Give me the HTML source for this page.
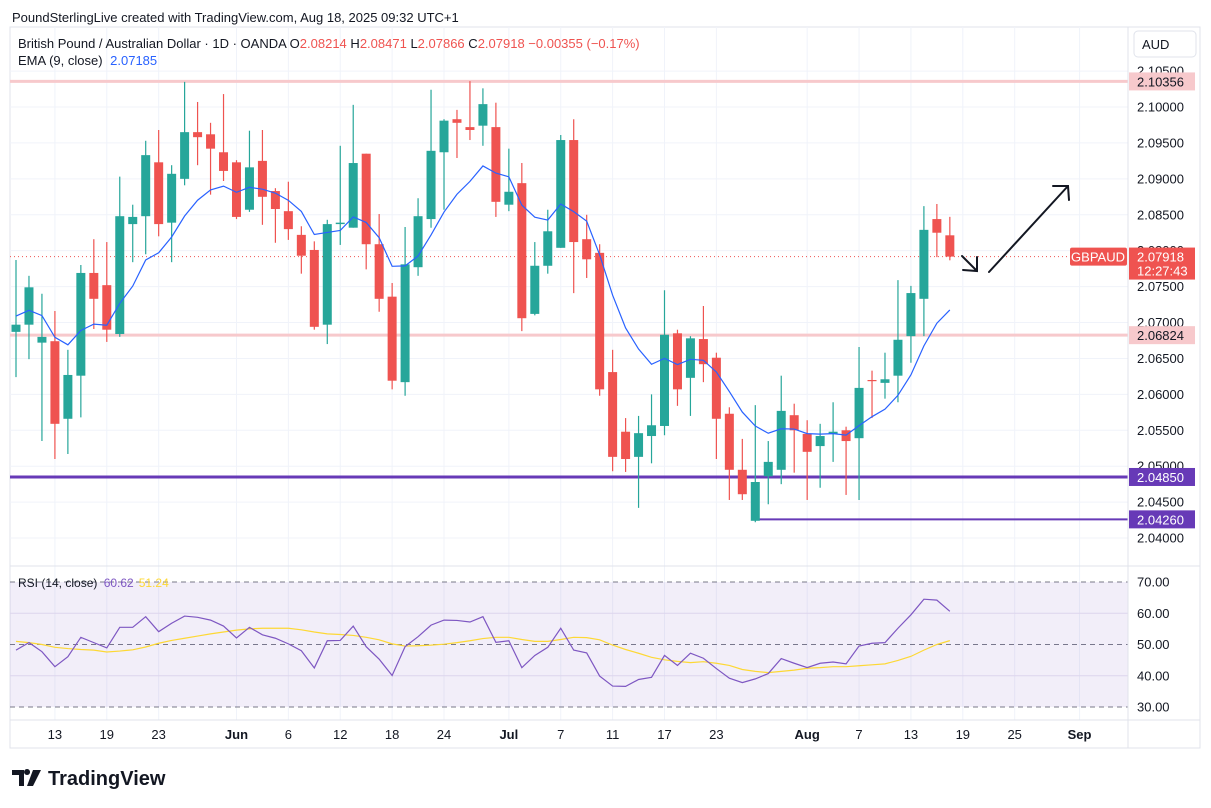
<!DOCTYPE html>
<html><head><meta charset="utf-8"><style>
body{margin:0;background:#fff;font-family:"Liberation Sans",sans-serif}
svg{display:block}
text{font-family:"Liberation Sans",sans-serif}
</style></head><body>
<svg id="c" width="1211" height="808" viewBox="0 0 1211 808">
<rect x="0" y="0" width="1211" height="808" fill="#fff"/>
<text x="12" y="22" font-size="13" fill="#131722">PoundSterlingLive created with TradingView.com, Aug 18, 2025 09:32 UTC+1</text>
<rect x="10" y="27" width="1190" height="721" fill="none" stroke="#e0e3eb"/>
<g id="grid"></g>
<rect x="10" y="582" width="1118" height="125" fill="#7e57c2" fill-opacity="0.1"/>
<g id="levels"></g>
<g id="candles"></g>
<g id="lines"></g>
<line x1="10" y1="566" x2="1200" y2="566" stroke="#e0e3eb"/>
<line x1="1128" y1="27" x2="1128" y2="748" stroke="#e0e3eb"/>
<line x1="10" y1="720" x2="1200" y2="720" stroke="#e0e3eb"/>
<g id="axis"></g>
<g stroke="#131722" stroke-width="2" fill="none" stroke-linecap="round">
<path d="M962 256 L977 271 M963 270 L977 271 L977 257"/>
<path d="M989 272 L1068 186 M1053 186 L1068 186 L1069 200"/>
</g>
<rect x="1134" y="31" width="62" height="26" rx="4" fill="#fff" stroke="#e0e3eb"/>
<text x="1142" y="49" font-size="13" fill="#131722">AUD</text>
<text x="18" y="48" font-size="13" fill="#131722">British Pound / Australian Dollar · 1D · OANDA <tspan>O</tspan><tspan fill="#ef5350">2.08214</tspan> <tspan>H</tspan><tspan fill="#ef5350">2.08471</tspan> <tspan>L</tspan><tspan fill="#ef5350">2.07866</tspan> <tspan>C</tspan><tspan fill="#ef5350">2.07918 −0.00355 (−0.17%)</tspan></text>
<text x="18" y="65" font-size="13" fill="#131722">EMA (9, close) <tspan fill="#2962ff" dx="4">2.07185</tspan></text>
<text x="18" y="587" font-size="12" fill="#131722">RSI (14, close) <tspan fill="#7e57c2" dx="3">60.62</tspan><tspan fill="#fdd835" dx="5">51.24</tspan></text>
<g>
<path d="M12 770 h12 v16 h-5 v-11 h-7z M27 775 a3 3 0 1 1 0.1 0z M33 770 h8 l-8 16 h-6z" fill="#131722"/>
<text x="48" y="785" font-size="20" font-weight="bold" fill="#131722">TradingView</text>
</g>
</svg>
<script>
const opens=[2.0687,2.0697,2.0672,2.0674,2.0566,2.0626,2.0769,2.0752,2.0684,2.0837,2.0848,2.0923,2.0839,2.0900,2.0965,2.0962,2.0937,2.0923,2.0857,2.0925,2.0883,2.0855,2.0822,2.0801,2.0697,2.0837,2.0832,2.0935,2.0809,2.0736,2.0617,2.0777,2.0844,2.0937,2.0983,2.0972,2.0974,2.0972,2.0864,2.0894,2.0712,2.0779,2.0804,2.0954,2.0816,2.0797,2.0631,2.0548,2.0513,2.0542,2.0556,2.0685,2.0623,2.0677,2.0651,2.0573,2.0495,2.0424,2.0486,2.0495,2.0571,2.0545,2.0528,2.0545,2.0550,2.0539,2.0620,2.0616,2.0626,2.0681,2.0733,2.0844,2.08214];
const highs=[2.0787,2.0765,2.0740,2.0716,2.0662,2.0780,2.0816,2.0812,2.0903,2.0864,2.0953,2.0968,2.0919,2.1035,2.1007,2.0978,2.1018,2.0926,2.0967,2.0968,2.0887,2.0896,2.0834,2.0813,2.0843,2.0946,2.1003,2.0935,2.0851,2.0755,2.0833,2.0873,2.1024,2.0983,2.0996,2.1036,2.1026,2.1006,2.0942,2.0922,2.0812,2.0857,2.0961,2.0983,2.0850,2.0809,2.0662,2.0567,2.0570,2.0600,2.0745,2.0690,2.0681,2.0723,2.0658,2.0582,2.0538,2.0585,2.0535,2.0626,2.0587,2.0564,2.0559,2.0589,2.0555,2.0666,2.0633,2.0658,2.0759,2.0751,2.0862,2.0865,2.08471];
const lows=[2.0624,2.0649,2.0535,2.0510,2.0517,2.0568,2.0691,2.0673,2.0680,2.0784,2.0795,2.0820,2.0784,2.0891,2.0919,2.0878,2.0897,2.0844,2.0854,2.0836,2.0811,2.0815,2.0768,2.0690,2.0670,2.0808,2.0832,2.0774,2.0715,2.0607,2.0598,2.0765,2.0832,2.0857,2.0929,2.0954,2.0946,2.0847,2.0855,2.0688,2.0710,2.0768,2.0804,2.0741,2.0762,2.0598,2.0493,2.0492,2.0442,2.0504,2.0543,2.0584,2.0570,2.0617,2.0510,2.0453,2.0453,2.0422,2.0447,2.0475,2.0491,2.0453,2.0470,2.0506,2.0460,2.0453,2.0567,2.0594,2.0589,2.0644,2.0681,2.0791,2.07866];
const closes=[2.0697,2.0749,2.0680,2.0559,2.0627,2.0769,2.0733,2.0690,2.0848,2.0847,2.0933,2.0837,2.0907,2.0965,2.0958,2.0942,2.0911,2.0847,2.0916,2.0875,2.0858,2.0830,2.0793,2.0694,2.0837,2.0839,2.0922,2.0809,2.0733,2.0619,2.0781,2.0848,2.0939,2.0981,2.0978,2.0968,2.1004,2.0868,2.0882,2.0706,2.0779,2.0827,2.0954,2.0812,2.0788,2.0607,2.0513,2.0510,2.0546,2.0557,2.0683,2.0607,2.0678,2.0642,2.0566,2.0495,2.0461,2.0478,2.0506,2.0577,2.0550,2.0520,2.0542,2.0548,2.0535,2.0609,2.0619,2.0621,2.0676,2.0741,2.0829,2.0825,2.07918];
const emaSeed=2.0712;
const rsiValues=[48.2,50.6,47.7,42.9,46.1,52.3,50.6,48.9,55.5,55.5,58.9,54.1,56.8,59.1,58.7,57.8,55.9,52.1,55.5,53.1,52.0,50.2,48.0,42.5,51.2,51.3,55.9,49.3,45.3,40.1,49.3,52.5,56.2,57.8,57.7,57.2,58.9,50.7,51.2,42.6,46.5,49.1,55.2,48.2,47.3,39.9,36.7,36.6,38.8,39.5,46.5,43.3,47.2,45.6,42.3,39.2,37.8,39.0,40.7,45.5,44.0,42.6,44.0,44.4,43.8,49.5,50.4,50.6,55.2,59.5,64.5,64.2,60.62];
const rsiMa=[51.0,50.6,50.0,49.1,48.7,48.4,48.2,47.6,47.9,48.3,49.2,50.4,51.3,52.0,52.7,53.4,54.0,54.6,55.0,55.2,55.2,55.2,54.7,54.0,53.4,53.2,52.9,52.3,51.5,50.2,49.5,49.6,49.8,50.1,50.6,51.2,51.9,52.3,52.3,51.6,51.0,51.0,51.6,52.3,52.2,51.5,49.8,48.4,47.2,45.9,45.1,44.6,44.2,44.5,44.0,43.3,42.0,41.4,41.0,41.4,41.8,42.4,42.6,42.9,42.9,43.2,43.5,43.8,44.9,46.2,48.2,50.0,51.24];
const priceTicks=[2.040,2.045,2.050,2.055,2.060,2.065,2.070,2.075,2.080,2.085,2.090,2.095,2.100,2.105];
const rsiTicks=[70,60,50,40,30];
const timeLabels=["13","19","23","Jun","6","12","18","24","Jul","7","11","17","23","Aug","7","13","19","25","Sep"];
const timeIdx=[3,7,11,17,21,25,29,33,38,42,46,50,54,61,65,69,73,77,82];
const levelPrices=[2.10356,2.06824,2.04850,2.04260];

const NS="http://www.w3.org/2000/svg";
function X(i){return 16+12.97*i;}
function Y(p){return 107+(2.10-p)*7184;}
function RY(v){return 582+(70-v)*3.125;}
function mk(tag,attrs,parent){const e=document.createElementNS(NS,tag);for(const k in attrs)e.setAttribute(k,attrs[k]);parent.appendChild(e);return e;}
const grid=document.getElementById('grid'),lv=document.getElementById('levels'),cg=document.getElementById('candles'),lg=document.getElementById('lines'),ax=document.getElementById('axis');

timeIdx.forEach((ix,k)=>{
  const g=mk('line',{x1:X(ix),x2:X(ix),y1:27,y2:720,stroke:'#f0f3fa'},grid);
  
  
  const t=mk('text',{x:X(ix),y:739,'font-size':13,'text-anchor':'middle',fill:'#131722','font-weight':/[A-Z]/.test(timeLabels[k])?'bold':'normal'},ax);
  t.textContent=timeLabels[k];
  
  
});
priceTicks.forEach(p=>{
  const g=mk('line',{x1:10,x2:1128,y1:Y(p),y2:Y(p),stroke:'#f0f3fa'},grid);
  
  
  const t=mk('text',{x:1137,y:Y(p)+4.5,'font-size':13,fill:'#131722'},ax);
  t.textContent=p.toFixed(5);
  
  
});
rsiTicks.forEach(v=>{
  const dashed=(v%20===10||v===50);
  const g=mk('line',{x1:10,x2:1128,y1:RY(v),y2:RY(v),stroke:dashed?'#787b86':'#e8e4f2','stroke-dasharray':dashed?'5,4':'none'},grid);
  
  
  const t=mk('text',{x:1137,y:RY(v)+4.5,'font-size':13,fill:'#131722'},ax);
  t.textContent=v.toFixed(2);
  
  
});
// levels
const lvlStyle=[{c:'#f7c9cc',w:3,x1:10,bg:'#f7c9cc',fg:'#131722'},{c:'#f7c9cc',w:3,x1:10,bg:'#f7c9cc',fg:'#131722'},{c:'#673ab7',w:3,x1:10,bg:'#673ab7',fg:'#fff'},{c:'#673ab7',w:2,x1:X(57),bg:'#673ab7',fg:'#fff'}];
levelPrices.forEach((p,k)=>{
  const s=lvlStyle[k];
  const l=mk('line',{x1:s.x1,x2:1128,y1:Y(p),y2:Y(p),stroke:s.c,'stroke-width':s.w},lv);
  
  
  const r=mk('rect',{x:1129,y:Y(p)-9,width:66,height:18,fill:s.bg},ax);
  
  
  const t=mk('text',{x:1137,y:Y(p)+5,'font-size':13,fill:s.fg},ax);
  t.textContent=p.toFixed(5);
  
  
});
// candles
closes.forEach((c,i)=>{
  const o=opens[i],up=c>=o,col=up?'#26a69a':'#ef5350',x=X(i);
  const w=mk('line',{x1:x,x2:x,y1:Y(highs[i]),y2:Y(lows[i]),stroke:col,'stroke-width':1.2},cg);
  
  
  const top=Y(Math.max(o,c)),h=Math.max(1.2,Math.abs(Y(o)-Y(c)));
  const b=mk('rect',{x:x-4.5,y:top,width:9,height:h,fill:col},cg);
  
  
});
// EMA
let e=emaSeed;const emaPts=[];
closes.forEach((c,i)=>{e=e+(c-e)*0.2;emaPts.push(X(i)+','+Y(e));});
const emaLine=mk('polyline',{points:emaPts.join(' '),fill:'none',stroke:'#2962ff','stroke-width':1.2},lg);


const maLine=mk('polyline',{points:rsiMa.map((v,i)=>X(i)+','+RY(v)).join(' '),fill:'none',stroke:'#fdd835','stroke-width':1.2},lg);


const rsiLine=mk('polyline',{points:rsiValues.map((v,i)=>X(i)+','+RY(v)).join(' '),fill:'none',stroke:'#7e57c2','stroke-width':1.2},lg);


// last price
const lp=closes[closes.length-1];
const pl=mk('line',{x1:10,x2:1128,y1:Y(lp),y2:Y(lp),stroke:'#ef5350','stroke-dasharray':'1,3'},lv);


const sl=mk('rect',{x:1070,y:Y(lp)-9,width:57,height:18,rx:2,fill:'#ef5350'},ax);


const st=mk('text',{x:1098,y:Y(lp)+5,'font-size':13,fill:'#fff','text-anchor':'middle'},ax);
st.textContent='GBPAUD';


const pr=mk('rect',{x:1129,y:Y(lp)-9,width:66,height:32,fill:'#ef5350'},ax);


const pt=mk('text',{x:1137,y:Y(lp)+5,'font-size':13,fill:'#fff'},ax);
pt.textContent=lp.toFixed(5);


const ct=mk('text',{x:1137,y:Y(lp)+19,'font-size':13,fill:'#fff'},ax);
ct.textContent='12:27:43';


</script>
</body></html>
